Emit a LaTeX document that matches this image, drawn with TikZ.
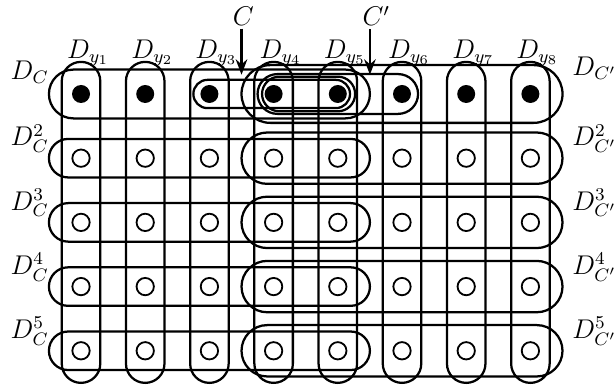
\documentclass[tikz,border=0pt]{standalone}
\usetikzlibrary{arrows.meta}
\begin{document}
\begin{tikzpicture}[>={Stealth[length=2.4mm, width=1.8mm]}, line width=1pt, font=\large]
\tikzset{
	vfull/.style={circle, fill=black, inner sep=0pt, minimum size=0.28cm},
	vopen/.style={circle, draw, line width=0.8pt, inner sep=0pt, minimum size=0.27cm},
	setlabel/.style={inner sep=1pt}
}
\useasboundingbox (-0.262,0.464) rectangle (9.302,-5.564);

% vertices: row 1 is C, rows 2-5 the copies
\foreach \i in {1,...,8} {
	\node[vfull] (v\i-1) at (\i,-1) {};
	\foreach \k in {2,...,5}
		\node[vopen] (v\i-\k) at (\i,-\k) {};
}

% column sets D_{y_i}
\foreach \i in {1,...,8} {
	\draw[rounded corners=3mm] (\i-0.3,-0.5) rectangle (\i+0.3,-5.5);
	\node[anchor=base] (dy\i) at (\i+0.11,-0.44) {$D_{y_{\i}}$};
}

% first row
\draw[rounded corners=3.8mm] (0.5,-0.62) rectangle (5.5,-1.38);
\draw[rounded corners=4.5mm] (3.5,-0.55) rectangle (8.5,-1.45);
\draw[rounded corners=2.2mm] (2.75,-0.78) rectangle (5.19,-1.22);
\draw[rounded corners=3.1mm] (3.75,-0.69) rectangle (6.25,-1.31);
\draw[rounded corners=2.7mm] (3.82,-0.73) rectangle (5.27,-1.27);
\node[setlabel, anchor=base east] (dc1) at (0.55,-0.78) {$D_C$};
\node[setlabel, anchor=base west] (dcp1) at (8.6,-0.71) {$D_{C'}$};

% rows 2-5
\foreach \k in {2,...,5} {
	\draw[rounded corners=3mm] (0.5,-\k+0.3) rectangle (5.5,-\k-0.3);
	\draw[rounded corners=4mm] (3.5,-\k+0.4) rectangle (8.5,-\k-0.4);
	\node[setlabel, anchor=base east] (dc\k) at (0.55,-\k+0.19) {$D_C^{\k}$};
	\node[setlabel, anchor=base west] (dcp\k) at (8.6,-\k+0.19) {$D_{C'}^{\k}$};
}

% the two sets C and C'
\coordinate (ctip) at (3.5,-0.7);
\coordinate (cptip) at (5.5,-0.7);
\node[setlabel] (clab) at (3.53,0.215) {$C$};
\node[setlabel] (cplab) at (5.6,0.215) {$C'$};
\draw[->] (clab.south -| ctip) -- (ctip);
\draw[->] (cplab.south -| cptip) -- (cptip);

\end{tikzpicture}
\end{document}
